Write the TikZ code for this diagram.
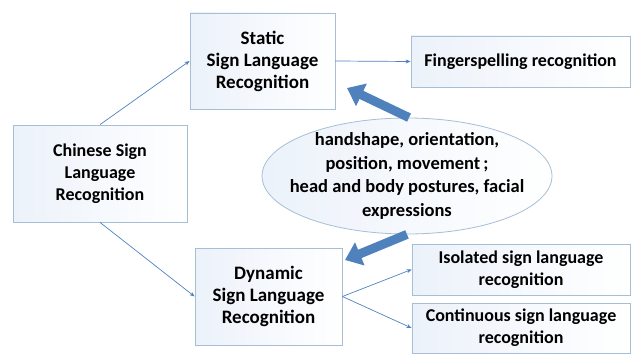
\documentclass[tikz,border=0pt]{standalone}
\usepackage{fontspec}
\setmainfont{Carlito}
\usetikzlibrary{shapes.geometric,arrows.meta}
\definecolor{boxline}{RGB}{166,190,214}
\definecolor{boxfill}{RGB}{236,242,250}
\definecolor{arrowblue}{RGB}{79,129,189}

\begin{document}
\begin{tikzpicture}[x=1pt,y=-1pt,
    box/.style={draw=boxline, line width=0.8pt, left color=boxfill, right color=white,
        font=\bfseries\fontsize{18}{22}\selectfont, align=center, inner sep=0pt},
    link/.style={draw=arrowblue, line width=0.7pt, -{Stealth[length=5pt,width=4pt]}},
    bigarrow/.style={arrowblue, line width=9pt, -{Triangle[length=16pt,width=24pt]}}]
    \useasboundingbox (0,0) rectangle (631,353);

    % boxes
    \node[box, minimum width=145pt, minimum height=96pt, font=\bfseries\fontsize{19}{22}\selectfont] (static) at (262.5,61) {Static\\Sign Language\\Recognition};
    \node[box, minimum width=219pt, minimum height=51pt] (finger) at (520.5,61.5) {Fingerspelling recognition};
    \node[box, minimum width=174pt, minimum height=97pt] (csl) at (100,173.5) {Chinese Sign\\Language\\Recognition};
    \node[box, minimum width=147pt, minimum height=97pt, font=\bfseries\fontsize{19}{22}\selectfont] (dynamic) at (268.5,296.5) {Dynamic\\Sign Language\\Recognition};
    \node[box, minimum width=218pt, minimum height=51pt] (isolated) at (521,269.5) {Isolated sign language\\recognition};
    \node[box, minimum width=218pt, minimum height=50pt] (cont) at (521,328) {Continuous sign language\\recognition};

    % features
    \node[ellipse, draw=boxline, line width=0.8pt, left color=boxfill, right color=white,
        minimum width=290pt, minimum height=116pt, inner sep=0pt] (feat) at (407,176) {};
    \node[align=center, font=\bfseries\fontsize{18.5}{23.5}\selectfont] (featText) at (feat.center)
        {handshape, orientation,\\position, movement\,;\\head and body postures, facial\\expressions};

    \draw[link] (csl.north) -- (static.west);
    \draw[link] (csl.south) -- (dynamic.west);
    \draw[link] (static.east) -- (finger.west);
    \draw[link] (dynamic.east) -- (isolated.west);
    \draw[link] (dynamic.east) -- (cont.west);

    \coordinate (tipS) at (347,88);
    \coordinate (tipD) at (345,260);
    \draw[bigarrow] (feat.88) -- (tipS);
    \draw[bigarrow] (feat.south) -- (tipD);
\end{tikzpicture}
\end{document}
